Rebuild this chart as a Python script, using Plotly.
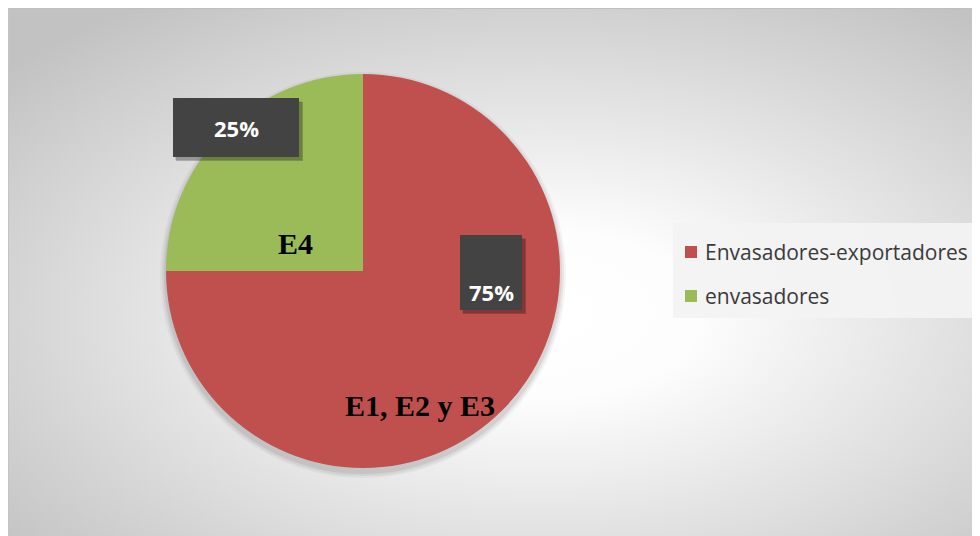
import base64
import plotly.graph_objects as go

# ---- data ----
labels = ["Envasadores-exportadores", "envasadores"]
values = [75, 25]
colors = ["#C0504D", "#9BBB59"]
group_labels = ["E1, E2 y E3", "E4"]

W, H = 972, 528

total = sum(values)
pcts = [f"{round(v * 100 / total)}%" for v in values]

# background radial gradient as an inline SVG image
svg = f'''<svg xmlns="http://www.w3.org/2000/svg" width="{W}" height="{H}">
<defs><radialGradient id="g" cx="0.55" cy="0.58" r="0.72">
<stop offset="0" stop-color="#ffffff"/>
<stop offset="0.22" stop-color="#fdfdfd"/>
<stop offset="1" stop-color="#c2c2c2"/>
</radialGradient></defs>
<rect width="{W}" height="{H}" fill="url(#g)"/></svg>'''
bg_src = "data:image/svg+xml;base64," + base64.b64encode(svg.encode()).decode()

def px(x):
    return x / W

def py(y):
    return 1 - y / H

def rect(x0, y0, x1, y1, fill, layer="above"):
    return dict(type="rect", xref="paper", yref="paper",
                x0=px(x0), x1=px(x1), y0=py(y1), y1=py(y0),
                fillcolor=fill, line=dict(width=0), layer=layer)

fig = go.Figure()
fig.add_trace(go.Pie(
    labels=labels, values=values, sort=False, direction="clockwise", rotation=0,
    marker=dict(colors=colors, line=dict(width=0)),
    textinfo="none", hoverinfo="label+percent", showlegend=False,
    domain=dict(x=[158 / W, 552 / W], y=[(H - 460) / H, (H - 66) / H]),
))

shapes = []
# pie soft shadow
for dr, op in [(6, 0.04), (4, 0.05), (2, 0.07)]:
    cx, cy, r = 355, 267, 197 + dr
    shapes.append(dict(type="circle", xref="paper", yref="paper",
                       x0=px(cx - r), x1=px(cx + r), y0=py(cy + r), y1=py(cy - r),
                       fillcolor=f"rgba(0,0,0,{op})", line=dict(width=0), layer="below"))
# chart border (top and left only; the rest is cut off in the view)
shapes.append(dict(type="line", xref="paper", yref="paper", x0=0, x1=1, y0=1, y1=1,
                   line=dict(color="#bfbfbf", width=2), layer="above"))
shapes.append(dict(type="line", xref="paper", yref="paper", x0=0, x1=0, y0=0, y1=1,
                   line=dict(color="#c4c4c4", width=2), layer="above"))
# legend box
shapes.append(rect(665, 215, 967, 310, "rgba(243,243,243,0.92)"))
legend_y = [244, 288]
for i, c in enumerate(colors):
    yc = legend_y[i]
    shapes.append(rect(677, yc - 6, 689, yc + 6, c))

# data label boxes: (x0, y0, x1, y1, text center y)
boxes = [
    (165, 90, 291, 149, 119.5, pcts[1]),
    (452, 227, 514, 302, 284, pcts[0]),
]
for x0, y0, x1, y1, _, _ in boxes:
    shapes.append(rect(x0 + 3, y0 + 4, x1 + 4, y1 + 4, "rgba(0,0,0,0.22)"))
    shapes.append(rect(x0 + 2, y0 + 3, x1 + 3, y1 + 3, "rgba(0,0,0,0.12)"))
for x0, y0, x1, y1, _, _ in boxes:
    shapes.append(rect(x0, y0, x1, y1, "#434343"))

annotations = []
for i, lab in enumerate(labels):
    annotations.append(dict(text=lab, xref="paper", yref="paper", x=px(695), y=py(legend_y[i]),
                            xanchor="left", yanchor="middle", showarrow=False,
                            font=dict(family="Open Sans", size=21, color="#3a3a3a")))
for x0, y0, x1, y1, ty, t in boxes:
    annotations.append(dict(text=f"<b>{t}</b>", xref="paper", yref="paper",
                            x=px((x0 + x1) / 2), y=py(ty), xanchor="center", yanchor="middle",
                            showarrow=False,
                            font=dict(family="Open Sans", size=22, color="white")))

# group labels
annotations.append(dict(text=f"<b>{group_labels[1]}</b>", xref="paper", yref="paper",
                        x=px(287), y=py(235), xanchor="center", yanchor="middle", showarrow=False,
                        font=dict(family="Liberation Serif", size=30, color="black")))
annotations.append(dict(text=f"<b>{group_labels[0]}</b>", xref="paper", yref="paper",
                        x=px(412), y=py(397), xanchor="center", yanchor="middle", showarrow=False,
                        font=dict(family="Liberation Serif", size=30, color="black")))

fig.update_layout(
    width=W, height=H, margin=dict(l=0, r=0, t=0, b=0),
    paper_bgcolor="white",
    images=[dict(source=bg_src, xref="paper", yref="paper", x=0, y=1, sizex=1, sizey=1,
                 xanchor="left", yanchor="top", sizing="stretch", layer="below")],
    shapes=shapes, annotations=annotations, showlegend=False,
)

fig.write_html("out.html")
